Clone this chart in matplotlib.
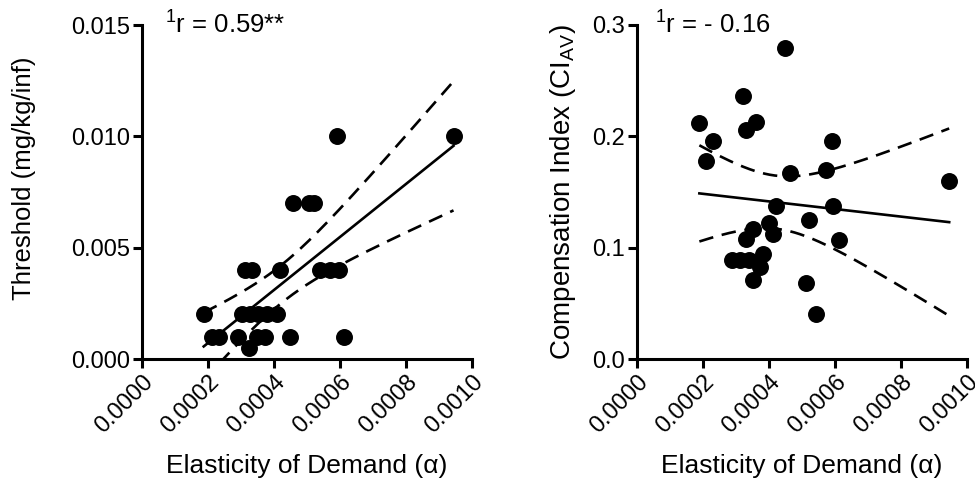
import matplotlib
matplotlib.use("Agg")
import matplotlib.pyplot as plt
import numpy as np

plt.rcParams['font.family'] = ['Liberation Sans', 'DejaVu Sans']
plt.rcParams['mathtext.fontset'] = 'custom'
plt.rcParams['mathtext.rm'] = 'Liberation Sans'
plt.rcParams['mathtext.it'] = 'Liberation Sans:italic'

# left panel: elasticity vs threshold
thr_alpha = [0.000187, 0.000212, 0.000232, 0.000290, 0.000323,
             0.000313, 0.000333, 0.000303, 0.000328, 0.000353,
             0.000379, 0.000409, 0.000348, 0.000373, 0.000419,
             0.000449, 0.000459, 0.000505, 0.000522, 0.000540,
             0.000570, 0.000596, 0.000591, 0.000611, 0.000944]
thr_val = [0.002, 0.001, 0.001, 0.001, 0.0005,
           0.004, 0.004, 0.002, 0.002, 0.002,
           0.002, 0.002, 0.001, 0.001, 0.004,
           0.001, 0.007, 0.007, 0.007, 0.004,
           0.004, 0.004, 0.010, 0.001, 0.010]

# right panel: elasticity vs compensation index
ci_alpha = [0.000449, 0.000321, 0.000189, 0.000362, 0.000330,
            0.000230, 0.000591, 0.000210, 0.000463, 0.000574,
            0.000946, 0.000421, 0.000593, 0.000522, 0.000401,
            0.000412, 0.000352, 0.000331, 0.000613, 0.000382,
            0.000288, 0.000313, 0.000338, 0.000374, 0.000352,
            0.000512, 0.000543]
ci_val = [0.279, 0.236, 0.212, 0.213, 0.206,
          0.196, 0.196, 0.178, 0.167, 0.170,
          0.160, 0.137, 0.137, 0.125, 0.122,
          0.112, 0.117, 0.108, 0.107, 0.094,
          0.089, 0.089, 0.089, 0.083, 0.071,
          0.068, 0.040]

x_ticks = [0.0, 0.0002, 0.0004, 0.0006, 0.0008, 0.0010]
x_ticklabels = ["0.0000", "0.0002", "0.0004", "0.0006", "0.0008", "0.0010"]


def fit_with_band(ax, x, y, t=2.07):
    # least squares line plus 95% confidence band of the mean
    x = np.asarray(x)
    y = np.asarray(y)
    n = len(x)
    b, a = np.polyfit(x, y, 1)
    resid = y - (a + b * x)
    s = np.sqrt(np.sum(resid ** 2) / (n - 2))
    sxx = np.sum((x - x.mean()) ** 2)
    xs = np.linspace(x.min(), x.max(), 200)
    yhat = a + b * xs
    half = t * s * np.sqrt(1.0 / n + (xs - x.mean()) ** 2 / sxx)
    ax.plot(xs, yhat, color='black', lw=1.9, zorder=3)
    for yy in (yhat - half, yhat + half):
        ax.plot(xs, yy, color='black', lw=1.9, ls=(0, (5.5, 3.3)), zorder=3)


def style(ax, yticks, ylabels, ylabel, ysize, ylab_x, ylab_y):
    ax.spines['top'].set_visible(False)
    ax.spines['right'].set_visible(False)
    ax.spines['left'].set_linewidth(2.2)
    ax.spines['bottom'].set_linewidth(2.2)
    ax.tick_params(width=2.2, length=6.5, labelsize=17, direction='out', pad=2)
    ax.set_xlim(0, 0.001)
    ax.set_xticks(x_ticks)
    ax.set_xticklabels(x_ticklabels, rotation=45, ha='right',
                       rotation_mode='anchor')
    ax.set_yticks(yticks)
    ax.set_yticklabels(ylabels)
    ax.set_ylim(yticks[0], yticks[-1])
    ax.set_xlabel("Elasticity of Demand (α)", fontsize=19)
    ax.xaxis.set_label_coords(0.5, -0.285)
    ax.set_ylabel(ylabel, fontsize=ysize)
    ax.yaxis.set_label_coords(ylab_x, ylab_y)


fig = plt.figure(figsize=(9.75, 4.92), dpi=100)
ax1 = fig.add_axes([142 / 975, 1 - 359 / 492, 330 / 975, 334 / 492])
ax2 = fig.add_axes([637 / 975, 1 - 359 / 492, 330 / 975, 334 / 492])

ax1.scatter(thr_alpha, thr_val, s=125, color='black', zorder=4, clip_on=False)
fit_with_band(ax1, thr_alpha, thr_val)
style(ax1, [0.0, 0.005, 0.010, 0.015], ["0.000", "0.005", "0.010", "0.015"],
      "Threshold (mg/kg/inf)", 18.5, -0.32, 0.54)
ax1.text(0.07, 1.0, "$^{1}$r = 0.59**", transform=ax1.transAxes,
         fontsize=18.5, va='center', ha='left')

ax2.scatter(ci_alpha, ci_val, s=125, color='black', zorder=4, clip_on=False)
fit_with_band(ax2, ci_alpha, ci_val)
style(ax2, [0.0, 0.1, 0.2, 0.3], ["0.0", "0.1", "0.2", "0.3"],
      "Compensation Index (CI$_{\\mathrm{AV}}$)", 20, -0.178, 0.5)
ax2.text(0.055, 1.0, "$^{1}$r = - 0.16", transform=ax2.transAxes,
         fontsize=18.5, va='center', ha='left')

fig.savefig("out.png", dpi=100)
